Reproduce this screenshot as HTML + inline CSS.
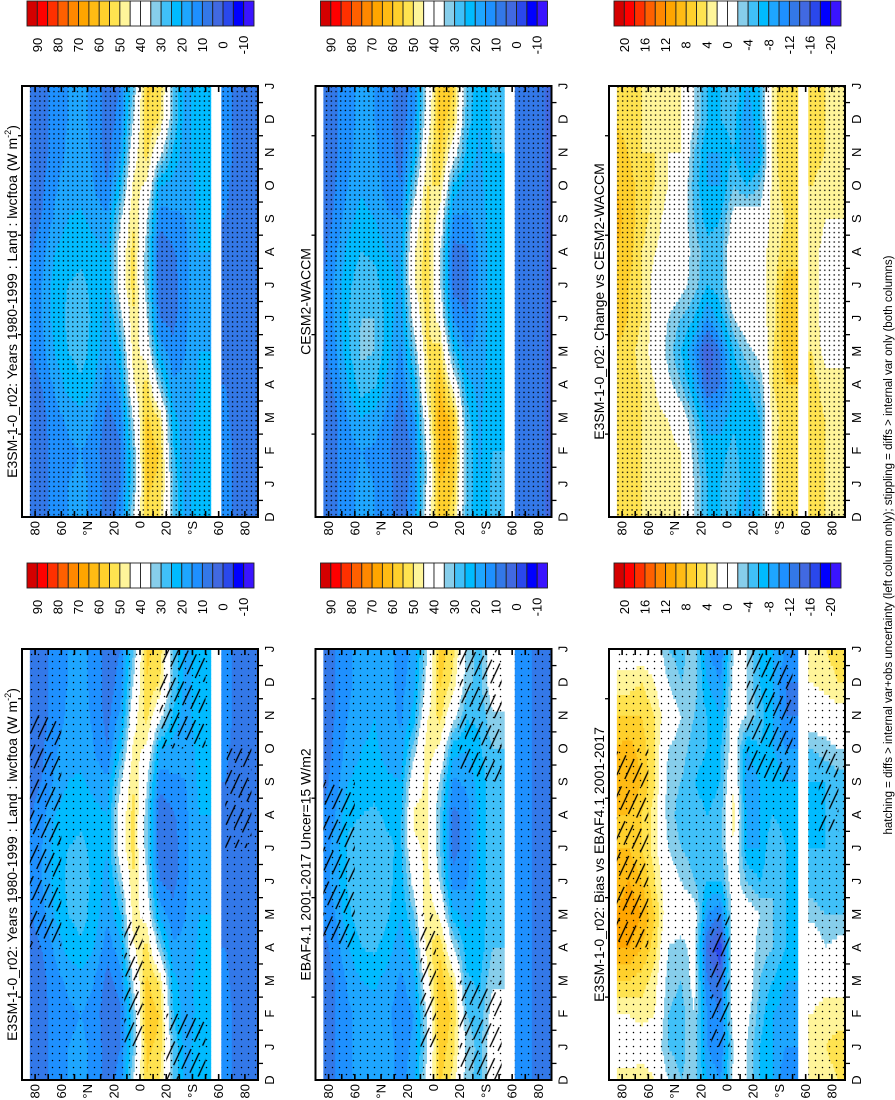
<!DOCTYPE html>
<html><head><meta charset="utf-8"><style>
html,body{margin:0;padding:0;background:#fff;}
svg{display:block;font-family:"Liberation Sans",Arial,sans-serif;}
</style></head><body>
<svg id="fig" width="895" height="1100" viewBox="0 0 895 1100" xmlns="http://www.w3.org/2000/svg">
<defs>
<pattern id="stip" width="4.7" height="4.7" patternUnits="userSpaceOnUse"><circle cx="2.3" cy="2.3" r="0.75" fill="#000"/></pattern>
<pattern id="stip2" width="7" height="7" patternUnits="userSpaceOnUse"><circle cx="3.5" cy="3.5" r="0.75" fill="#000"/></pattern>
<pattern id="hatch" width="9" height="30" patternUnits="userSpaceOnUse" patternTransform="rotate(25)"><line x1="4.5" y1="0" x2="4.5" y2="22" stroke="#000" stroke-width="1.3"/></pattern>
</defs>
<text transform="translate(892,545) rotate(-90)" text-anchor="middle" font-size="11.5" fill="#000">hatching = diffs &gt; internal var+obs uncertainty (left column only); stippling = diffs &gt; internal var only (both columns)</text>
</svg>
<script>
// ---- data ----
const latNodes = [85,75,65,55,45,35,25,15,5,-5,-15,-25,-35,-45,-55,-65,-75,-85];
const monthLabels = ["D","J","F","M","A","M","J","J","A","S","O","N","D","J"];
const latTickLabels = ["80","60","°N","20","0","20","°S","60","80"];
const latTickValues = [80,60,40,20,0,-20,-40,-60,-80];
const absLevelLabels = ["90","80","70","60","50","40","30","20","10","0","-10"];
const diffLevelLabels = ["20","16","12","8","4","0","-4","-8","-12","-16","-20"];

const e3smLwcf = [
[6,6,6,7,9,10,10,9,7,6,6,6],
[8,8,8,10,13,15,15,13,10,9,8,8],
[12,12,13,16,20,22,22,20,16,14,12,12],
[15,14,16,22,25,26,25,23,20,18,16,15],
[16,15,18,24,27,27,26,24,21,18,17,16],
[14,13,15,20,23,24,24,22,18,15,14,14],
[7,6,8,12,16,18,20,20,16,10,8,7],
[10,9,12,18,24,32,40,40,34,24,16,12],
[30,30,36,44,48,50,52,52,50,47,42,35],
[56,58,56,52,42,36,32,32,36,44,52,55],
[54,55,50,32,18,10,6,6,12,20,38,50],
[30,26,22,16,12,8,7,9,14,18,24,30],
[17,16,17,16,15,14,14,14,15,16,17,17],
[24,22,22,21,20,20,20,20,21,22,24,24],
null,
[12,12,11,10,10,10,10,10,10,11,12,12],
[8,8,8,8,8,8,8,8,8,8,8,8],
[7,7,7,7,7,7,7,7,7,7,7,7]];

const cesm2Lwcf = [
[5,5,5,6,8,9,9,8,6,5,5,5],
[9,9,9,11,14,16,16,14,11,10,9,9],
[14,13,15,20,24,25,24,22,18,15,14,14],
[16,15,20,28,31,30,28,25,22,19,17,16],
[15,14,18,26,30,30,27,24,20,17,16,15],
[12,11,13,18,22,23,22,20,16,13,12,12],
[7,6,7,10,14,17,19,19,15,10,8,7],
[12,11,14,22,30,38,44,44,40,30,20,14],
[36,36,42,48,50,52,54,53,52,50,46,40],
[60,63,64,60,52,42,36,36,42,50,56,58],
[56,60,58,42,26,14,8,8,14,24,40,52],
[30,30,28,22,15,10,8,9,14,18,24,28],
[20,19,19,18,17,16,16,16,17,18,19,20],
[26,25,24,23,23,23,23,23,23,24,25,26],
null,
[8,8,8,8,8,8,8,8,8,8,8,8],
[6,6,6,6,6,6,6,6,6,6,6,6],
[5,5,5,5,5,5,5,5,5,5,5,5]];

const ebafLwcf = [
[7,7,7,8,10,12,12,10,8,7,7,7],
[10,10,10,12,15,17,17,15,12,11,10,10],
[14,14,16,20,24,26,26,24,20,17,15,14],
[17,17,20,25,28,28,27,25,22,20,18,17],
[19,18,21,26,30,30,28,26,23,21,20,19],
[17,16,18,22,26,27,26,24,21,18,17,17],
[13,12,14,17,20,22,24,24,20,16,14,13],
[16,15,18,24,30,38,44,46,42,32,22,18],
[34,36,42,48,50,48,46,46,46,48,44,38],
[58,60,58,54,44,34,30,30,34,44,52,56],
[52,54,50,36,22,12,8,8,14,22,38,48],
[34,30,26,22,18,14,12,12,16,20,26,32],
[28,26,24,22,22,22,22,22,22,24,26,28],
[40,38,34,30,28,28,28,28,28,30,34,40],
null,
[14,14,14,14,14,14,14,14,14,14,14,14],
[10,10,10,10,10,10,10,10,10,10,10,10],
[8,8,8,8,8,8,8,8,8,8,8,8]];

const changeVsCesm2 = [
[6,6,6,6,6,7,8,8,9,8,7,6],
[5,5,5,5,5,6,6,7,7,7,6,5],
[4,4,4,4,3,4,4,4,5,5,4,4],
[4,4,3,2,1,1,1,2,3,4,4,4],
[3,3,2,-1,-3,-2,0,1,1,2,2,3],
[2,2,0,-4,-6,-4,-1,0,0,1,2,2],
[-2,-3,-4,-8,-10,-6,-3,-3,-4,-5,-4,-2],
[-6,-7,-9,-14,-16,-10,-6,-5,-7,-8,-8,-6],
[-6,-7,-9,-12,-12,-7,-5,-5,-6,-8,-8,-6],
[-4,-5,-7,-8,-6,-2,1,1,-1,-4,-6,-5],
[-8,-8,-8,-6,-3,0,1,1,0,-6,-10,-10],
[-6,-6,-6,-4,-1,1,1,1,-1,-4,-8,-6],
[3,3,3,4,4,3,3,3,3,3,3,3],
[6,6,5,6,7,8,7,5,4,5,6,6],
null,
[5,5,5,5,4,3,3,3,4,4,5,5],
[4,4,4,3,1,1,1,1,2,3,4,4],
[4,4,4,3,1,1,1,1,2,3,4,4]];

const biasVsEbaf = [
[0,2,6,10,10,8,8,8,10,8,6,3],
[0,2,6,10,12,10,8,8,10,9,6,3],
[0,3,5,8,10,8,6,6,8,7,6,4],
[0,2,3,5,6,4,3,3,4,4,4,2],
[-4,-4,-3,-2,0,0,-2,-3,-3,-2,0,-2],
[-5,-5,-4,-3,0,-2,-4,-5,-4,-3,-2,-4],
[-2,-2,-1,-1,0,-4,-5,-5,-6,-5,-4,-3],
[-10,-10,-12,-14,-10,-6,-6,-6,-7,-6,-6,-8],
[-12,-12,-14,-18,-12,-6,-5,-5,-6,-6,-8,-10],
[-2,0,1,2,0,0,2,3,2,0,0,-1],
[-2,-1,0,0,0,-4,-8,-8,-10,-8,-2,-2],
[-6,-5,-4,-3,-2,-6,-8,-8,-8,-6,-5,-6],
[-8,-8,-6,-4,-4,-4,-4,-6,-6,-8,-8,-8],
[-10,-9,-8,-6,-6,-6,-6,-7,-8,-10,-12,-12],
null,
[3,2,1,1,-3,-5,-6,-6,-6,-4,0,2],
[4,3,1,-2,-4,-6,-6,-6,-6,-3,0,3],
[5,3,1,-1,-4,-5,-5,-5,-5,-2,1,4]];

const palette = ["#d40000","#ff0000","#ff3000","#ff6000","#ff8800","#ffa500","#ffbb14","#ffd02c","#ffe350","#fff59a","#ffffff","#ffffff","#87ceeb","#40c0f8","#00bbff","#1ea6ff","#1e90ff","#3378e8","#4169e1","#2a48ec","#0000ff","#3a14ff"];

// hatched regions: [latTop, latBottom, tStart, tEnd]
const hatchC = [[84,60,4,11],[12,-2,1,5],[-15,-50,10,13],[-20,-50,0,2],[-65,-85,7,10]];
const hatchD = [[84,60,4,9],[10,-2,1,5],[-20,-52,9,13],[-20,-52,0,3]];
const hatchF = [[84,60,4,10],[12,-2,1,5],[-15,-50,9,13],[-70,-85,7.5,10]];

const panels = [
 {name:"e3sm-climatology-top", data:e3smLwcf, kind:"abs", x0:22, y0:86, title:"E3SM-1-0_r02: Years 1980-1999 : Land : lwcftoa (W m", sup:"-2", stip:"stip", cbY:1, hatch:[]},
 {name:"cesm2-climatology", data:cesm2Lwcf, kind:"abs", x0:315.5, y0:86, title:"CESM2-WACCM", stip:"stip", cbY:1, hatch:[]},
 {name:"change-vs-cesm2", data:changeVsCesm2, kind:"diff", x0:609, y0:86, title:"E3SM-1-0_r02: Change vs CESM2-WACCM", stip:"stip", cbY:1, hatch:[]},
 {name:"e3sm-climatology-bottom", data:e3smLwcf, kind:"abs", x0:22, y0:649, title:"E3SM-1-0_r02: Years 1980-1999 : Land : lwcftoa (W m", sup:"-2", stip:"stip2", cbY:563, hatch:hatchC},
 {name:"ebaf-observations", data:ebafLwcf, kind:"abs", x0:315.5, y0:649, title:"EBAF4.1 2001-2017 Uncer=15 W/m2", stip:"stip2", cbY:563, hatch:hatchD},
 {name:"bias-vs-ebaf", data:biasVsEbaf, kind:"diff", x0:609, y0:649, title:"E3SM-1-0_r02: Bias vs EBAF4.1 2001-2017", stip:"stip2", cbY:563, hatch:hatchF}
];

const W = 236, H = 431;
const NS = "http://www.w3.org/2000/svg";
const svg = document.getElementById("fig");
function mk(tag, attrs, parent){ const e=document.createElementNS(NS,tag); for(const k in attrs) e.setAttribute(k,attrs[k]); (parent||svg).appendChild(e); return e; }

function colorIndex(v, kind){
  let k = kind==="abs" ? Math.floor((95 - v)/5) : Math.floor((22 - v)/2);
  return Math.max(0, Math.min(21, k));
}
function rowVal(data, i, m){
  const r = data[i]; if(!r) return NaN;
  const m0 = Math.floor(m), f = m - m0;
  const a = r[((m0%12)+12)%12], b = r[(((m0+1)%12)+12)%12];
  return a + (b-a)*f;
}
function fieldVal(data, lat, t){
  const m = t - 1;
  const n = latNodes.length;
  if(lat >= latNodes[0]) return rowVal(data,0,m);
  if(lat <= latNodes[n-1]) return rowVal(data,n-1,m);
  const j = Math.floor((latNodes[0]-lat)/10), f = (latNodes[j]-lat)/10;
  const a = rowVal(data,j,m), b = rowVal(data,j+1,m);
  if(isNaN(a)) return b; if(isNaN(b)) return a;
  return a + (b-a)*f;
}

panels.forEach(p => {
  const g = mk("g", {});
  
  
  const xs = lat => p.x0 + (90 - lat)/180*W;
  const ys = t => p.y0 + H - t/13*H;
  const cells = mk("g", {}, g);
  
  
  const dt = 1/8;
  for(let t=0; t<13; t+=dt){
    const y1 = ys(t+dt), y2 = ys(t);
    let runStart=null, runCol=null;
    const flush = (latEnd) => {
      if(runCol!==null){
        const r = mk("rect", {x:xs(runStart).toFixed(2), y:y1.toFixed(2), width:(xs(latEnd)-xs(runStart)+0.4).toFixed(2), height:(y2-y1+0.4).toFixed(2), fill:runCol}, cells);
        
        
      }
    };
    for(let lat=84; lat>-90; lat-=1){
      const c = lat - 0.5;
      let col = null;
      if(!(c < -54 && c > -62)){
        const v = fieldVal(p.data, c, t + dt/2);
        if(!isNaN(v)) col = palette[colorIndex(v, p.kind)];
      }
      if(col !== runCol){ flush(lat); runStart = lat; runCol = col; }
    }
    flush(-90);
  }
  const s1 = mk("rect", {x:xs(84), y:p.y0, width:xs(-54)-xs(84), height:H, fill:"url(#"+p.stip+")"}, g);
  
  
  const s2 = mk("rect", {x:xs(-62), y:p.y0, width:xs(-90)-xs(-62), height:H, fill:"url(#"+p.stip+")"}, g);
  
  
  p.hatch.forEach(h => {
    const hr = mk("rect", {x:xs(h[0]), y:ys(h[3]), width:xs(h[1])-xs(h[0]), height:ys(h[2])-ys(h[3]), fill:"url(#hatch)"}, g);
    
    
  });
  const fr = mk("rect", {x:p.x0, y:p.y0, width:W, height:H, fill:"none", stroke:"#000", "stroke-width":2}, g);
  
  
  for(let lat=80; lat>=-80; lat-=10){
    const x = xs(lat);
    const t1 = mk("line", {x1:x, y1:p.y0, x2:x, y2:p.y0+6, stroke:"#000", "stroke-width":1.6}, g);
    
    
    const t2 = mk("line", {x1:x, y1:p.y0+H, x2:x, y2:p.y0+H-6, stroke:"#000", "stroke-width":1.6}, g);
    
    
  }
  latTickValues.forEach((lv,i) => {
    const tx = mk("text", {transform:`translate(${xs(lv)+4.5},${p.y0+H+4}) rotate(-90)`, "text-anchor":"end", "font-size":13, fill:"#000"}, g);
    
    
    tx.textContent = latTickLabels[i];
  });
  for(let t=0; t<13; t++){
    const y = ys(t+0.5);
    const mt = mk("line", {x1:p.x0+W, y1:y, x2:p.x0+W+5, y2:y, stroke:"#000", "stroke-width":1.3}, g);
    
    
  }
  [2.5,5.5,8.5,11.5].forEach(t => {
    const y = ys(t);
    const lt = mk("line", {x1:p.x0-4, y1:y, x2:p.x0, y2:y, stroke:"#000", "stroke-width":1.3}, g);
    
    
  });
  monthLabels.forEach((ml,t) => {
    const tx = mk("text", {transform:`translate(${p.x0+W+16},${ys(t)}) rotate(-90)`, "text-anchor":"middle", "font-size":13, fill:"#000"}, g);
    
    
    tx.textContent = ml;
  });
  const ti = mk("text", {transform:`translate(${p.x0-5},${p.y0+H/2}) rotate(-90)`, "text-anchor":"middle", "font-size":14, fill:"#000"}, g);
  
  
  ti.textContent = p.title;
  if(p.sup){
    const sp = mk("tspan", {"font-size":9, dy:-6}, ti); sp.textContent = p.sup;
    const cl = mk("tspan", {dy:6}, ti); cl.textContent = ")";
  }
  const cb = mk("g", {}, g);
  
  
  const cbx = p.x0 + 5, cbw = 227, bw = cbw/22;
  palette.forEach((c,k) => {
    const r = mk("rect", {x:cbx+k*bw, y:p.cbY, width:bw, height:25, fill:c, stroke:"#222", "stroke-width":0.9}, cb);
    
    
  });
  const labs = p.kind==="abs" ? absLevelLabels : diffLevelLabels;
  labs.forEach((l,i) => {
    const x = cbx + (1 + 2*i)*bw;
    const tx = mk("text", {transform:`translate(${x+4.5},${p.cbY+44}) rotate(-90)`, "text-anchor":"middle", "font-size":13, fill:"#000"}, cb);
    
    
    tx.textContent = l;
  });
});
</script>
</body></html>
